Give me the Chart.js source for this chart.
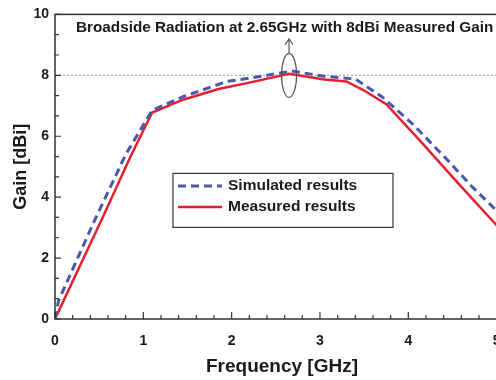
<!DOCTYPE html>
<html>
<head>
<meta charset="utf-8">
<script src="https://cdn.jsdelivr.net/npm/chart.js@4.4.0/dist/chart.umd.min.js"></script>
<style>
  html, body { margin: 0; padding: 0; background: #fff; overflow: hidden; }
  #chartBox { width: 520px; height: 380px; }
</style>
</head>
<body>
<div id="chartBox"><canvas id="gain-chart" width="520" height="380"></canvas></div>
<script>
// gain vs frequency, simulated and measured
var freqSimulated = [0, 0.04, 0.45, 0.8, 1.1, 1.45, 1.95, 2.3, 2.68, 3.05, 3.4, 3.7, 4.05, 4.45, 4.72, 4.96, 5.14];
var gainSimulated = [0, 0.6, 3.25, 5.4, 6.85, 7.3, 7.8, 7.95, 8.14, 7.97, 7.88, 7.3, 6.4, 5.2, 4.35, 3.67, 3.15];
var freqMeasured = [0, 0.55, 0.85, 1.1, 1.45, 1.85, 2.2, 2.65, 3.05, 3.3, 3.5, 3.75, 4.15, 4.55, 4.96, 5.14];
var gainMeasured = [0, 3.4, 5.3, 6.78, 7.2, 7.55, 7.76, 8.05, 7.86, 7.8, 7.5, 7.05, 5.8, 4.5, 3.2, 2.65];

var xTickLabels = [0, 1, 2, 3, 4, 5];
var yTickLabels = [0, 2, 4, 6, 8, 10];
var xMinorStep = 0.2;
var yMinorStep = 2 / 3;

// broadside point marked with the ellipse and arrow
var peakFreq = 2.65;
var peakGain = 8;

Chart.defaults.font.family = "'Liberation Sans', Arial, Helvetica, sans-serif";
Chart.defaults.color = "#1a1a1a";

function toPoints(xs, ys) {
  return xs.map(function (x, i) {
    return { x: x, y: ys[i] };
  });
}

function minorTicks(max, step) {
  var ticks = [];
  for (var k = 0; k * step <= max + 1e-9; k++) {
    ticks.push({ value: k * step });
  }
  return ticks;
}

function isLabelled(value, labels) {
  return labels.some(function (l) {
    return Math.abs(l - value) < 1e-6;
  });
}

var decor = {
  id: "decor",
  beforeDatasetsDraw: function (chart) {
    var ctx = chart.ctx;
    var area = chart.chartArea;
    var y = chart.scales.y.getPixelForValue(peakGain);
    ctx.save();
    ctx.strokeStyle = "#a0a0a0";
    ctx.lineWidth = 1;
    ctx.setLineDash([2, 2]);
    ctx.beginPath();
    ctx.moveTo(area.left, y);
    ctx.lineTo(area.right, y);
    ctx.stroke();
    ctx.restore();
  },
  afterDatasetsDraw: function (chart) {
    var ctx = chart.ctx;
    var area = chart.chartArea;
    var xs = chart.scales.x;
    var ys = chart.scales.y;
    ctx.save();

    // frame
    ctx.strokeStyle = "#333";
    ctx.lineWidth = 1.5;
    ctx.strokeRect(area.left, area.top, area.right - area.left, area.bottom - area.top);

    // inward tick marks
    ctx.lineWidth = 1.2;
    ctx.beginPath();
    xs.ticks.forEach(function (t) {
      var px = xs.getPixelForValue(t.value);
      var len = isLabelled(t.value, xTickLabels) ? 7 : 4;
      ctx.moveTo(px, area.bottom);
      ctx.lineTo(px, area.bottom - len);
    });
    ys.ticks.forEach(function (t) {
      var py = ys.getPixelForValue(t.value);
      var len = isLabelled(t.value, yTickLabels) ? 6 : 4;
      ctx.moveTo(area.left, py);
      ctx.lineTo(area.left + len, py);
    });
    ctx.stroke();

    // ellipse round the peak and arrow pointing up
    var cx = xs.getPixelForValue(peakFreq);
    var cy = ys.getPixelForValue(peakGain);
    var rx = Math.abs(xs.getPixelForValue(peakFreq + 0.085) - cx);
    var ry = Math.abs(ys.getPixelForValue(peakGain + 0.72) - cy);
    var tipY = ys.getPixelForValue(9.2);
    ctx.strokeStyle = "#555";
    ctx.lineWidth = 1.2;
    ctx.beginPath();
    ctx.ellipse(cx, cy, rx, ry, 0, 0, Math.PI * 2);
    ctx.moveTo(cx, cy - ry);
    ctx.lineTo(cx, tipY);
    ctx.moveTo(cx - 4, tipY + 6);
    ctx.lineTo(cx, tipY);
    ctx.lineTo(cx + 4, tipY + 6);
    ctx.stroke();

    // title inside the frame
    ctx.fillStyle = "#1a1a1a";
    ctx.font = "bold 15.3px 'Liberation Sans', Arial, sans-serif";
    ctx.textBaseline = "alphabetic";
    ctx.textAlign = "left";
    ctx.fillText(
      "Broadside Radiation at " + peakFreq + "GHz with " + peakGain + "dBi Measured Gain",
      area.left + 21,
      area.top + 18
    );

    // boxed legend
    var bx = area.left + 118;
    var by = area.top + 159;
    ctx.fillStyle = "#fff";
    ctx.fillRect(bx, by, 220, 54);
    ctx.strokeStyle = "#333";
    ctx.lineWidth = 1.2;
    ctx.strokeRect(bx, by, 220, 54);
    ctx.font = "bold 15.5px 'Liberation Sans', Arial, sans-serif";
    ctx.textBaseline = "middle";
    chart.data.datasets.forEach(function (ds, i) {
      var ly = by + 12.5 + i * 21;
      ctx.strokeStyle = ds.borderColor;
      ctx.lineWidth = ds.borderWidth;
      ctx.setLineDash(ds.borderDash || []);
      ctx.beginPath();
      ctx.moveTo(bx + 5, ly);
      ctx.lineTo(bx + 49, ly);
      ctx.stroke();
      ctx.setLineDash([]);
      ctx.fillStyle = "#1a1a1a";
      ctx.fillText(ds.label, bx + 55, ly);
    });
    ctx.restore();
  },
};

var config = {
  type: "line",
  data: {
    datasets: [
      {
        label: "Simulated results",
        data: toPoints(freqSimulated, gainSimulated),
        borderColor: "#4a58a8",
        borderWidth: 3,
        borderDash: [8, 5],
        pointRadius: 0,
        tension: 0,
        fill: false,
      },
      {
        label: "Measured results",
        data: toPoints(freqMeasured, gainMeasured),
        borderColor: "#e5202e",
        borderWidth: 2.5,
        pointRadius: 0,
        tension: 0,
        fill: false,
      },
    ],
  },
  options: {
    responsive: false,
    animation: false,
    devicePixelRatio: 1,
    layout: { padding: { top: 13, right: 11, left: 0, bottom: 0 } },
    plugins: {
      legend: { display: false },
      tooltip: { enabled: false },
    },
    scales: {
      x: {
        type: "linear",
        min: 0,
        max: 5.14,
        grid: { display: false, drawTicks: false },
        border: { display: false },
        afterBuildTicks: function (scale) {
          scale.ticks = minorTicks(5, xMinorStep);
        },
        afterFit: function (scale) {
          scale.height = 61;
        },
        ticks: {
          autoSkip: false,
          maxRotation: 0,
          padding: 14,
          font: { size: 14, weight: "bold" },
          callback: function (v) {
            return isLabelled(v, xTickLabels) ? String(Math.round(v)) : "";
          },
        },
        title: {
          display: true,
          text: "Frequency [GHz]",
          font: { size: 19, weight: "bold" },
          padding: { top: 4, bottom: 2 },
        },
      },
      y: {
        min: 0,
        max: 10,
        grid: { display: false, drawTicks: false },
        border: { display: false },
        afterBuildTicks: function (scale) {
          scale.ticks = minorTicks(10, yMinorStep);
        },
        afterFit: function (scale) {
          scale.width = 55;
        },
        ticks: {
          autoSkip: false,
          padding: 6,
          font: { size: 14, weight: "bold" },
          callback: function (v) {
            return isLabelled(v, yTickLabels) ? String(Math.round(v)) : "";
          },
        },
        title: {
          display: true,
          text: "Gain [dBi]",
          font: { size: 18, weight: "bold" },
          padding: { top: 10, bottom: 0 },
        },
      },
    },
  },
  plugins: [decor],
};

var ctx = document.getElementById("gain-chart").getContext("2d");
window.chart = new Chart(ctx, config);
</script>
</body>
</html>
